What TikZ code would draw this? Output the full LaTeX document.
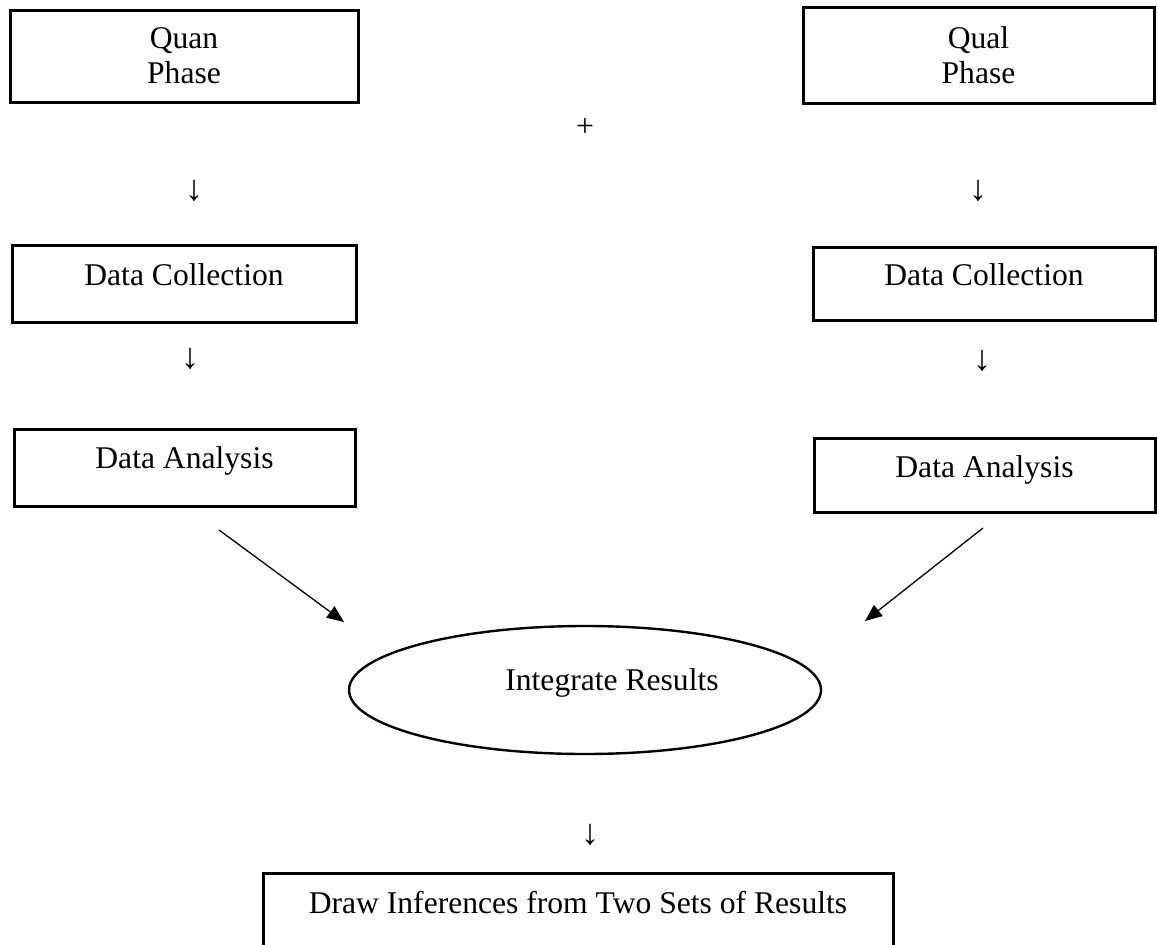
\documentclass[tikz,border=0pt]{standalone}
\usepackage{fontspec}
\setmainfont{Liberation Serif}
\usetikzlibrary{arrows.meta,shapes.geometric}
\begin{document}
\begin{tikzpicture}[x=1pt,y=-1pt,
  every node/.style={font=\fontsize{31.6}{35}\selectfont, inner sep=0pt},
  box/.style={draw, line width=3pt, rectangle},
  oval/.style={draw, line width=2.4pt, ellipse},
  glyph/.style={anchor=center, font=\fontsize{36}{40}\selectfont},
  feed/.style={line width=1.3pt, -{Triangle[length=17pt,width=14pt]}}]
\useasboundingbox (0,0) rectangle (1157,945);
\clip (0,0) rectangle (1157,945);

% phase boxes
\node[box, align=center, minimum width=348, minimum height=92] (quan) at (184,56) {Quan\\Phase};
\node[box, align=center, minimum width=351, minimum height=96] (qual) at (978.5,55.5) {Qual\\Phase};
\node[anchor=center] (plus) at (585,128) {+};

% first downward marks
\node[glyph] (dn1) at (194,191) {↓};
\node[glyph] (dn2) at (978,191) {↓};

% data collection
\node[box, anchor=base, text height=40, text depth=37, minimum width=344] (dcL) at (184,285) {Data Collection};
\node[box, anchor=base, text height=38, text depth=35, minimum width=342] (dcR) at (984,285) {Data Collection};

% second downward marks
\node[glyph] (dn3) at (190,359) {↓};
\node[glyph] (dn4) at (982,361) {↓};

% data analysis
\node[box, anchor=base, text height=39, text depth=38, minimum width=341] (daL) at (184.5,468) {Data Analysis};
\node[box, anchor=base, text height=39, text depth=35, minimum width=341] (daR) at (984.5,477) {Data Analysis};

% integration
\node[oval, minimum width=472, minimum height=128] (int) at (585,690) {};
\node[anchor=base] (intT) at (612,690) {Integrate Results};

\coordinate (fL1) at (219,530);
\coordinate (fL2) at (344,622);
\coordinate (fR1) at (983,528);
\coordinate (fR2) at (865,621);
\draw[feed] (fL1) -- (fL2);
\draw[feed] (fR1) -- (fR2);

% inference
\node[glyph] (dn5) at (590,835) {↓};
\node[box, anchor=base, text height=40, text depth=80, minimum width=630] (inf) at (578,913) {Draw Inferences from Two Sets of Results};
\end{tikzpicture}
\end{document}
